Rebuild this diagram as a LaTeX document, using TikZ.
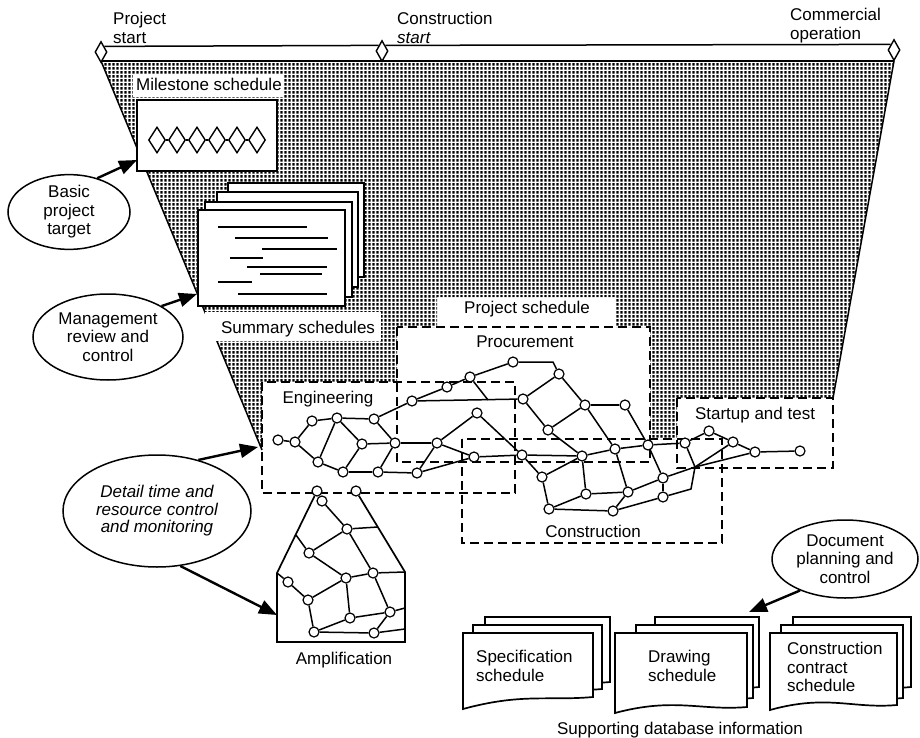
\documentclass[tikz,border=0pt]{standalone}
\usepackage{fontspec}
\setmainfont{Liberation Sans}
\usetikzlibrary{arrows.meta,shapes.geometric,patterns.meta}

% fine dot screen used for the planning horizon
\tikzdeclarepattern{
  name=stipple,
  type=uncolored,
  bounding box={(0pt,0pt) and (4pt,4pt)},
  tile size={(4pt,4pt)},
  code={\pgfpathrectangle{\pgfpoint{0.6pt}{0.5pt}}{\pgfpoint{2.7pt}{3pt}}\pgfusepath{fill}}
}

% document sheet with a wavy lower edge: left, top, bottom-left, right, bottom-right
\newcommand\docsheet[5]{%
  \path[sheet] (#1,#3) -- (#1,#2) -- (#4,#2) -- (#4,#5)
    .. controls ({#4-0.35*(#4-#1)},{#5+4}) and ({#1+0.45*(#4-#1)},{#3-16}) .. (#1,#3) -- cycle;}

\begin{document}
\begin{tikzpicture}[x=1pt,y=-1pt,
  font=\fontsize{17}{18.5}\selectfont,
  every node/.style={inner sep=0pt},
  nd/.style={circle,draw,fill=white,line width=1.2pt,minimum size=10pt},
  edge/.style={line width=1.5pt},
  zone/.style={line width=1.8pt,dash pattern=on 9pt off 5pt},
  arr/.style={line width=2.4pt,-{Triangle[length=18pt,width=14pt]}},
  bubble/.style={ellipse,draw,line width=1.5pt,fill=white,align=center},
  sheet/.style={draw,fill=white,line width=1.7pt},
  bar/.style={line width=2.2pt},
  gem/.style={diamond,draw,fill=white,line width=1.4pt}
]
\useasboundingbox (0,0) rectangle (920,738);

% ---------- stippled planning horizon ----------
\fill[pattern=stipple,pattern color=black]
  (101,61) -- (894,61) -- (833,398) -- (677,398) -- (677,439) -- (650,439)
  -- (650,327) -- (615,327) -- (615,297) -- (437,297) -- (437,327) -- (397,327)
  -- (397,382) -- (262,382) -- (262,450) -- cycle;
\draw[line width=1.8pt] (101,61) -- (894,61);
\draw[line width=1.5pt] (101,61) -- (262,450);
\draw[line width=1.5pt] (894,61) -- (833,398);

% ---------- time line ----------
\node[gem,minimum width=12pt,minimum height=21pt] (dm1) at (101,52) {};
\node[gem,minimum width=12pt,minimum height=21pt] (dm2) at (382,51) {};
\node[gem,minimum width=12pt,minimum height=21pt] (dm3) at (894,50) {};
\draw[line width=1.5pt] (dm1.north east) -- (dm2.north west);
\draw[line width=1.5pt] (dm2.north east) -- (dm3.north west);
\node[anchor=north west,align=left] (lbPS) at (113,12) {Project\\start};
\node[anchor=north west,align=left] (lbCS) at (397,12) {Construction\\\textit{start}};
\node[anchor=north west,align=left] (lbCO) at (790,8) {Commercial\\operation};

% ---------- milestone schedule ----------
\fill[white] (133,74) rectangle (283,97);
\node[anchor=base] (lbMS) at (209,91) {Milestone schedule};
\node[draw,fill=white,line width=2pt,minimum width=140pt,minimum height=71pt] (ms) at (207,135.5) {};
\foreach \i/\x in {1/157,2/177,3/197,4/217,5/237,6/257}
  \node[gem,minimum width=17pt,minimum height=26pt] (ms\i) at (\x,140) {};
\foreach \a/\b in {1/2,2/3,3/4,4/5,5/6}
  \draw[line width=1.4pt] (ms\a) -- (ms\b);
\coordinate (msIn) at (137,160);

% ---------- summary schedules ----------
\path[sheet] (228,183) rectangle (364,277);
\path[sheet] (217,192) rectangle (358,287);
\path[sheet] (205,202) rectangle (352,297);
\path[sheet] (198,210) rectangle (345,306);
\foreach \xa/\xb/\y in {218/307/227,235/328/238,262/337/249,230/263/258,
                        247/327/267,260/322/274,218/252/282,238/327/294}
  \draw[bar] (\xa,\y) -- (\xb,\y);
\fill[white] (205,312) rectangle (381,341);
\node[anchor=base] (lbSS) at (298,333) {Summary schedules};
\coordinate (sumIn) at (197,294);

% ---------- project schedule zones ----------
\draw[zone] (397,327) rectangle (650,462);
\draw[zone] (262,382) rectangle (515,493);
\draw[zone] (462,439) rectangle (722,543);
\draw[zone] (677,398) rectangle (833,468);
\node[anchor=base] (lbPJ) at (527,313) {Project schedule};
\node[anchor=base] (lbPR) at (525,347) {Procurement};
\node[anchor=base] (lbEN) at (328,403) {Engineering};
\node[anchor=base] (lbST) at (755,419) {Startup and test};
\node[anchor=base] (lbCN) at (593,537) {Construction};
\coordinate (engIn) at (258,447);

% ---------- network ----------
\foreach \n/\x/\y in {E1/278/440,E2/295/442,E3/312/421,E4/337/418,E5/318/462,
    E6/362/444,E7/374/419,E8/395/443,E9/343/472,E10/378/472,E11/412/401,
    E12/447/387,E13/470/377,E14/513/362,E15/523/399,E16/437/443,E17/477/413,
    E18/474/457,E19/417/473,E20/522/455,P7/559/374,P1/585/405,P2/625/405,
    P3/548/430,P4/648/445,P5/615/449,P6/582/456,C1/542/477,C2/663/478,
    C3/586/494,C4/628/492,C5/663/497,C6/549/509,C7/613/511,S1/685/443,
    S2/709/431,S3/733/442,S4/755/452,S5/800/451}
  \node[nd] (\n) at (\x,\y) {};
\coordinate (J) at (695,467);
\coordinate (K) at (691,489);
\coordinate (M) at (488,400);
\coordinate (B) at (553,362);
\foreach \a/\b in {E1/E2,E2/E3,E2/E5,E3/E4,E4/E5,E4/E6,E4/E7,E5/E9,E9/E6,E6/E8,
    E7/E8,E7/E11,E8/E10,E9/E10,E10/E19,E8/E16,E16/E19,E19/E18,E16/E17,E16/E18,
    E17/E20,E18/E20,E11/E12,E12/E13,E13/E14,E11/E15,E13/M,E15/P7,P7/P1,E15/P3,
    P3/P1,P1/P2,P1/P5,P2/P4,P3/P6,P6/P5,P5/P4,E20/P6,E20/C1,C1/P6,C1/C6,P6/C3,
    C6/C3,C3/C4,P5/C4,C4/C7,C6/C7,C7/C5,C4/C2,P4/C2,C2/C5,C2/J,P4/S1,S1/S2,
    S2/S3,S3/S4,S4/S5,S1/J,J/S3,J/S4}
  \draw[edge] (\a) -- (\b);
\draw[edge] (E14) -- (B) -- (P7);
\draw[edge] (J) -- (K) -- (C5);

% ---------- amplification ----------
\node[nd] (t1) at (317,491) {};
\node[nd] (t2) at (356,491) {};
\coordinate (cL) at (277,573);
\coordinate (cBL) at (277,642);
\coordinate (cBR) at (405,642);
\coordinate (cR) at (405,572);
\coordinate (L1) at (296,535);
\coordinate (R1) at (378,527);
\coordinate (R3) at (405,608);
\coordinate (R4) at (405,629);
\coordinate (ampIn) at (277,615);
\draw[line width=1.7pt] (t1) -- (cL) -- (cBL) -- (cBR) -- (cR) -- (t2);
\foreach \n/\x/\y in {a1/322/501,a2/347/529,a3/309/553,a4/288/582,a5/346/578,
    a6/373/573,a7/308/600,a8/350/618,a9/390/612,a10/314/632,a11/374/633}
  \node[nd] (\n) at (\x,\y) {};
\foreach \a/\b in {t1/a1,a1/a2,a2/R1,a2/a3,L1/a3,a3/a5,a2/a6,a6/cR,a5/a6,a5/a7,
    cL/a4,a4/a7,a5/a8,a7/a10,a8/a10,a8/a9,a6/a9,a9/R3,a10/a11,a11/a9,a11/R4}
  \draw[edge] (\a) -- (\b);
\node[anchor=base] (lbAM) at (344,664) {Amplification};

% ---------- control ellipses ----------
\node[bubble,minimum width=122pt,minimum height=72pt] (basic) at (69,212) {Basic\\project\\target};
\node[bubble,minimum width=150pt,minimum height=86pt] (mgmt) at (108,337) {Management\\review and\\control};
\node[bubble,minimum width=188pt,minimum height=112pt,
      font=\fontsize{17}{17.5}\selectfont\itshape] (detail) at (157,511)
      {Detail time and\\resource control\\and monitoring};
\node[bubble,minimum width=146pt,minimum height=78pt] (docpc) at (845,559) {Document\\planning and\\control};

% ---------- supporting documents ----------
\docsheet{485}{617}{693}{610}{682}
\docsheet{473}{625}{701}{602}{689}
\docsheet{463}{633}{709}{593}{697}
\docsheet{655}{617}{697}{759}{687}
\docsheet{636}{625}{705}{753}{698}
\docsheet{615}{633}{713}{747}{707}
\docsheet{793}{617}{697}{911}{687}
\docsheet{781}{625}{705}{903}{698}
\docsheet{770}{633}{710}{897}{705}
\node[anchor=north west,align=left] (tSpec) at (476,650) {Specification\\schedule};
\node[anchor=north west,align=left] (tDraw) at (648,650) {Drawing\\schedule};
\node[anchor=north west,align=left] (tCon) at (787,642) {Construction\\contract\\schedule};
\node[anchor=base] (lbSD) at (680,734) {Supporting database information};
\coordinate (drwIn) at (749,612);

% ---------- control arrows ----------
\draw[arr] (basic.50) -- (msIn);
\draw[arr] (mgmt.30) -- (sumIn);
\draw[arr] (detail.51) -- (engIn);
\draw[arr] (detail.-67) -- (ampIn);
\draw[arr] (docpc.215) -- (drwIn);
\end{tikzpicture}
\end{document}
